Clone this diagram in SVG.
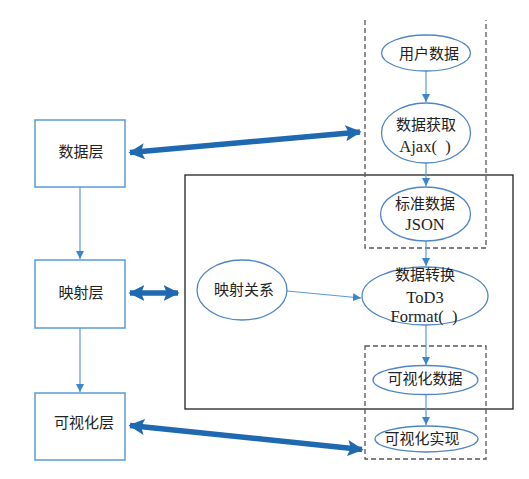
<svg xmlns="http://www.w3.org/2000/svg" width="529" height="479" viewBox="0 0 529 479">
<style>
.box{fill:#fff;stroke:#5B9BD5;stroke-width:1.5}
.ell{fill:#fff;stroke:#4F86C6;stroke-width:1.3}
.dash{fill:none;stroke:#555;stroke-width:1.3;stroke-dasharray:5,3}
.frame{fill:none;stroke:#222;stroke-width:1.3}
.thin{fill:none;stroke:#5B9BD5;stroke-width:1.2;marker-end:url(#ah)}
.thick{fill:none;stroke:#1F69B0;stroke-width:5.5;marker-start:url(#bh);marker-end:url(#bh)}
text{font-family:"Liberation Serif","Noto Sans CJK SC",serif;font-size:15px;fill:#222;text-anchor:middle;dominant-baseline:central}
.lat{font-size:16.5px}
</style>
<defs>
<marker id="ah" viewBox="0 0 10 10" refX="10" refY="5" markerWidth="8" markerHeight="8" markerUnits="userSpaceOnUse" orient="auto"><path d="M0,0L10,5L0,10z" fill="#3A86CC"/></marker>
<marker id="bh" viewBox="0 0 10 10" refX="9" refY="5" markerWidth="16" markerHeight="16" markerUnits="userSpaceOnUse" orient="auto-start-reverse"><path d="M0,0L10,5L0,10L2,5z" fill="#1F69B0"/></marker>
</defs>
<rect width="529" height="479" fill="#fff"/>
<g id="frames">
<rect class="frame" x="185" y="175" width="328" height="234"/>
<path class="dash" d="M365,20V248H486V20"/>
<rect class="dash" x="365" y="346" width="121" height="113"/>
</g>
<g id="connectors">
<line class="thin" x1="80" y1="187" x2="80" y2="259"/>
<line class="thin" x1="80" y1="328" x2="80" y2="392"/>
<line class="thin" x1="426" y1="71" x2="426" y2="102"/>
<line class="thin" x1="426" y1="163" x2="426" y2="186"/>
<line class="thin" x1="426" y1="241" x2="426" y2="266"/>
<line class="thin" x1="287" y1="291" x2="361" y2="298"/>
<line class="thin" x1="426" y1="325" x2="426" y2="365"/>
<line class="thin" x1="426" y1="395" x2="426" y2="425"/>
<line class="thick" x1="130" y1="152.5" x2="360" y2="132"/>
<line class="thick" x1="130" y1="293" x2="178" y2="293"/>
<line class="thick" x1="130" y1="425.5" x2="362" y2="449.5"/>
</g>
<g id="n-data-layer"><rect class="box" x="35" y="120" width="90" height="67"/><text x="81" y="152">数据层</text></g>
<g id="n-map-layer"><rect class="box" x="35" y="260" width="90" height="68"/><text x="81" y="293">映射层</text></g>
<g id="n-vis-layer"><rect class="box" x="35" y="393" width="90" height="67"/><text x="84" y="423">可视化层</text></g>
<g id="n-user-data"><ellipse class="ell" cx="426" cy="53" rx="44.5" ry="18"/><text x="429" y="54">用户数据</text></g>
<g id="n-fetch"><ellipse class="ell" cx="426" cy="133" rx="44.5" ry="30"/><text x="426" y="125">数据获取</text><text class="lat" x="425" y="146" xml:space="preserve">Ajax(  )</text></g>
<g id="n-json"><ellipse class="ell" cx="425.5" cy="214" rx="45" ry="27"/><text x="425" y="204">标准数据</text><text class="lat" x="425" y="224">JSON</text></g>
<g id="n-mapping"><ellipse class="ell" cx="242" cy="290" rx="45" ry="30"/><text x="244" y="290">映射关系</text></g>
<g id="n-convert"><ellipse class="ell" cx="425" cy="296" rx="63" ry="29"/><text x="425" y="275">数据转换</text><text class="lat" x="425" y="297">ToD3</text><text class="lat" x="424" y="316" xml:space="preserve">Format(  )</text></g>
<g id="n-vis-data"><ellipse class="ell" cx="425.5" cy="380" rx="52.5" ry="14.5"/><text x="425" y="379">可视化数据</text></g>
<g id="n-vis-impl"><ellipse class="ell" cx="426.5" cy="439" rx="51.5" ry="13"/><text x="422" y="439">可视化实现</text></g>
</svg>
